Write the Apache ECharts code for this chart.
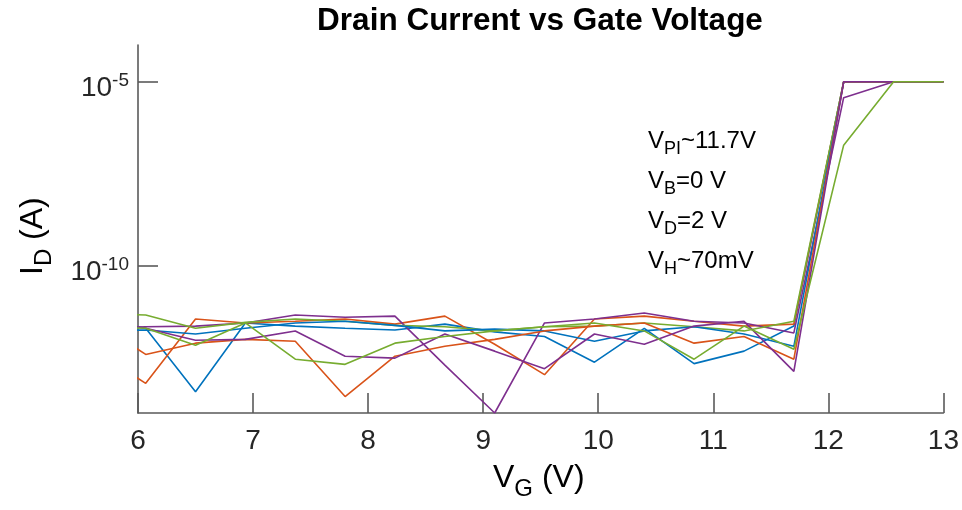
<!DOCTYPE html>
<html>
<head>
<meta charset="utf-8">
<title>Drain Current vs Gate Voltage</title>
<script src="https://cdn.jsdelivr.net/npm/echarts@6/dist/echarts.min.js"></script>
<style>
  html, body { margin: 0; padding: 0; background: #fff; }
  #chart { width: 962px; height: 510px; }
</style>
</head>
<body>
<div id="chart"></div>
<script>
// Gate voltage sweep points (V); the first point lies just left of the 6 V axis limit
const gateVoltage = [5.633, 6.067, 6.5, 6.933, 7.367, 7.8, 8.233, 8.667, 9.1, 9.533,
                     9.967, 10.4, 10.833, 11.267, 11.7, 12.133, 12.567, 13.0];

// Drain current (A) for each sweep
const blueA   = [3.5e-12, 2.0e-12, 3.8e-14, 2.8e-12, 2.3e-12, 2.0e-12, 1.8e-12, 2.6e-12, 1.6e-12, 1.2e-12, 2.4e-13, 2.0e-12, 2.2e-13, 4.8e-13, 2.3e-12, 1e-5, 1e-5, 1e-5];
const blueB   = [1.7e-12, 1.8e-12, 1.4e-12, 2.0e-12, 2.8e-12, 3.1e-12, 2.4e-12, 1.7e-12, 1.9e-12, 1.7e-12, 8.9e-13, 1.7e-12, 2.2e-12, 1.4e-12, 6.5e-13, 1e-5, 1e-5, 1e-5];
const orangeA = [4.8e-13, 6.4e-14, 3.6e-12, 2.8e-12, 3.1e-12, 3.6e-12, 2.6e-12, 4.3e-12, 7.4e-13, 1.1e-13, 3.6e-12, 4.3e-12, 3.1e-12, 2.3e-12, 2.6e-12, 1e-5, 1e-5, 1e-5];
const orangeB = [3.1e-12, 3.9e-13, 7.9e-13, 1.0e-12, 8.9e-13, 2.8e-14, 3.5e-13, 6.5e-13, 1.0e-12, 1.7e-12, 2.3e-12, 2.8e-12, 7.9e-13, 1.2e-12, 2.9e-13, 1e-5, 1e-5, 1e-5];
const purpleA = [2.1e-12, 2.2e-12, 2.3e-12, 2.8e-12, 4.6e-12, 4.0e-12, 4.3e-12, 2.0e-13, 1.0e-14, 2.8e-12, 3.6e-12, 5.2e-12, 3.1e-12, 2.8e-12, 1.5e-12, 3.7e-6, 1e-5, 1e-5];
const purpleB = [3.1e-12, 2.0e-12, 9.5e-13, 1.0e-12, 1.7e-12, 3.5e-13, 3.1e-13, 1.4e-12, 4.8e-13, 1.6e-13, 1.4e-12, 7.4e-13, 2.3e-12, 3.1e-12, 1.35e-13, 1e-5, 1e-5, 1e-5];
const greenA  = [5.0e-12, 4.6e-12, 2.0e-12, 2.9e-12, 3.6e-12, 3.1e-12, 2.4e-12, 2.2e-12, 1.7e-12, 2.2e-12, 2.3e-12, 2.8e-12, 2.2e-12, 1.7e-12, 3.1e-12, 1e-5, 1e-5, 1e-5];
const greenB  = [2.3e-12, 2.0e-12, 6.9e-13, 2.8e-12, 2.9e-13, 2.1e-13, 7.9e-13, 1.2e-12, 1.7e-12, 2.2e-12, 2.8e-12, 1.7e-12, 2.9e-13, 2.3e-12, 5.4e-13, 1.9e-7, 1e-5, 1e-5];

// Tick labels
const xTicks = [6, 7, 8, 9, 10, 11, 12, 13];
const yTickExponents = [-10, -5];

const sweeps = [
  { name: 'blueA',   color: '#0072BD', values: blueA },
  { name: 'orangeA', color: '#D95319', values: orangeA },
  { name: 'purpleA', color: '#7E2F8E', values: purpleA },
  { name: 'greenA',  color: '#77AC30', values: greenA },
  { name: 'blueB',   color: '#0072BD', values: blueB },
  { name: 'orangeB', color: '#D95319', values: orangeB },
  { name: 'purpleB', color: '#7E2F8E', values: purpleB },
  { name: 'greenB',  color: '#77AC30', values: greenB }
];

const axisColor = '#5a5a5a';
const textColor = '#262626';
const font = 'Arial, "Liberation Sans", Helvetica, sans-serif';

const chart = echarts.init(document.getElementById('chart'), null, { renderer: 'canvas' });

// The current axis is drawn in decades: each sample is placed at log10(I)
const series = sweeps.map(s => ({
  name: s.name,
  type: 'line',
  data: gateVoltage.map((v, i) => [v, Math.log10(s.values[i])]),
  showSymbol: false,
  symbol: 'none',
  clip: true,
  lineStyle: { color: s.color, width: 1.6 },
  itemStyle: { color: s.color },
  animation: false
}));

const annotation = [
  ['V', 'PI', '~11.7V'],
  ['V', 'B', '=0 V'],
  ['V', 'D', '=2 V'],
  ['V', 'H', '~70mV']
];

function subText(main, sub, rest, size, subSize, drop) {
  return {
    text: '{m|' + main + '}{s|' + sub + '}{m|' + rest + '}',
    rich: {
      m: { fontSize: size, fontFamily: font, color: textColor, lineHeight: size + 10, verticalAlign: 'middle' },
      s: { fontSize: subSize, fontFamily: font, color: textColor, lineHeight: size + 10, verticalAlign: 'middle', padding: [drop, 0, 0, 0] }
    }
  };
}

chart.setOption({
  animation: false,
  backgroundColor: '#ffffff',
  grid: { left: 138, right: 16, top: 45, bottom: 97, containLabel: false },
  xAxis: {
    type: 'value',
    min: 6,
    max: 13,
    interval: 1,
    axisLine: { show: true, lineStyle: { color: axisColor, width: 1.6 } },
    axisTick: { show: true, inside: true, length: 20, lineStyle: { color: axisColor, width: 1.6 }, customValues: xTicks },
    axisLabel: { customValues: xTicks, color: textColor, fontFamily: font, fontSize: 28, margin: 14 },
    splitLine: { show: false }
  },
  yAxis: {
    type: 'value',
    min: -14,
    max: -4,
    interval: 1,
    axisLine: { show: true, lineStyle: { color: axisColor, width: 1.6 } },
    axisTick: { show: true, inside: true, length: 20, lineStyle: { color: axisColor, width: 1.6 }, customValues: yTickExponents },
    axisLabel: {
      customValues: yTickExponents,
      margin: 9,
      formatter: v => '{b|10}{e|' + v + '}',
      rich: {
        b: { fontSize: 28, fontFamily: font, color: textColor, lineHeight: 32, verticalAlign: 'middle', padding: [12, 0, 0, 0] },
        e: { fontSize: 19, fontFamily: font, color: textColor, lineHeight: 32, verticalAlign: 'middle', padding: [0, 0, 2, 0] }
      }
    },
    splitLine: { show: false }
  },
  graphic: [
    {
      type: 'text',
      x: 540,
      y: 21,
      style: {
        text: 'Drain Current vs Gate Voltage',
        fontFamily: font,
        fontSize: 31.5,
        fontWeight: 'bold',
        fill: '#000',
        align: 'center',
        verticalAlign: 'middle'
      }
    },
    {
      type: 'text',
      x: 493,
      y: 478,
      style: Object.assign(subText('V', 'G', ' (V)', 32, 24, 22), { verticalAlign: 'middle' })
    },
    {
      type: 'text',
      x: 12,
      y: 275,
      rotation: Math.PI / 2,
      style: Object.assign(subText('I', 'D', ' (A)', 32, 24, 22), { verticalAlign: 'top' })
    }
  ].concat(annotation.map((a, i) => ({
    type: 'text',
    x: 648,
    y: 141 + i * 40,
    style: Object.assign(subText(a[0], a[1], a[2], 24, 18, 16), { verticalAlign: 'middle' })
  }))),
  series: series
});
</script>
</body>
</html>
